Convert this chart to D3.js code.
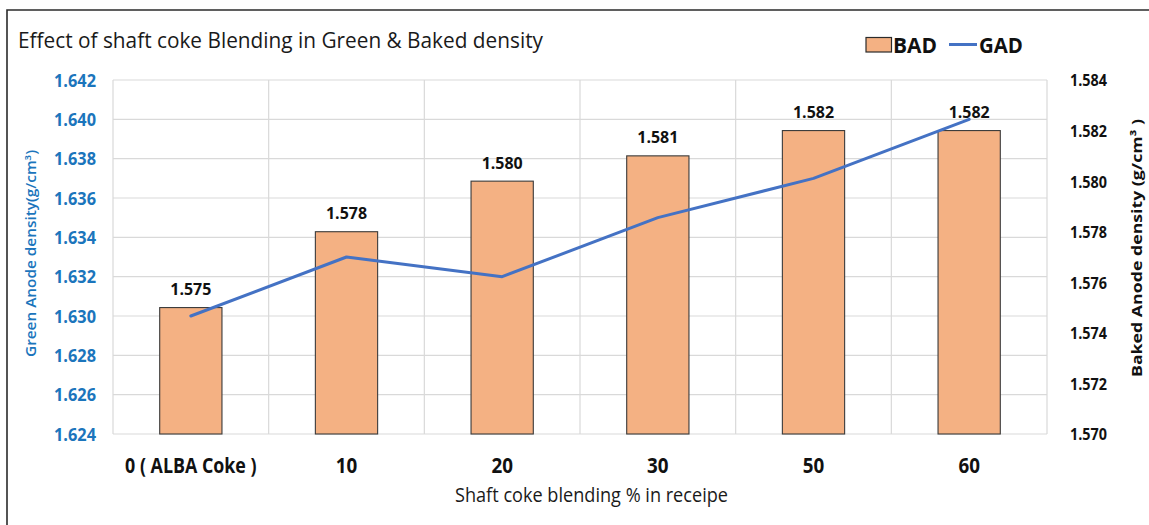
<!DOCTYPE html>
<html>
<head>
<meta charset="utf-8">
<script src="https://cdn.jsdelivr.net/npm/d3@7"></script>
<style>
  html, body { margin: 0; padding: 0; background: #fff; }
  svg { display: block; }
</style>
</head>
<body>
<svg id="chart" width="1149" height="525"></svg>
<script>
// Shaft coke blending levels and measured anode densities
const categories = ["0 ( ALBA Coke )", "10", "20", "30", "50", "60"];
const badValues = [1.575, 1.578, 1.580, 1.581, 1.582, 1.582];   // baked anode density
const gadValues = [1.630, 1.633, 1.632, 1.635, 1.637, 1.640];   // green anode density
const leftTicks = [1.624, 1.626, 1.628, 1.630, 1.632, 1.634, 1.636, 1.638, 1.640, 1.642];
const rightTicks = [1.570, 1.572, 1.574, 1.576, 1.578, 1.580, 1.582, 1.584];

const W = 1149, H = 525;
const plot = { left: 113, right: 1047, top: 80, bottom: 434 };
const FONT = "'Open Sans', 'Liberation Sans', sans-serif";
const BLUE_TEXT = "#1b75bc";
const BAR_FILL = "#f4b183";
const LINE_COLOR = "#4472c4";

const svg = d3.select("#chart");

// squeeze a text node to a given width (narrow, Calibri-like look)
function fit(sel, w) {
  sel.attr("textLength", w).attr("lengthAdjust", "spacingAndGlyphs");
  return sel;
}

// frame
svg.append("rect").attr("width", W).attr("height", H).attr("fill", "#fff");
svg.append("path")
  .attr("d", `M7,${H} L7,10 L${W},10`)
  .attr("fill", "none").attr("stroke", "#2b2b2b").attr("stroke-width", 1.6);

// scales
const x = d3.scaleBand().domain(categories).range([plot.left, plot.right]).padding(0);
const yL = d3.scaleLinear().domain([1.624, 1.642]).range([plot.bottom, plot.top]);
const yR = d3.scaleLinear().domain([1.570, 1.584]).range([plot.bottom, plot.top]);

// horizontal gridlines at left-axis ticks
svg.append("g")
  .selectAll("line").data(leftTicks).join("line")
  .attr("x1", plot.left).attr("x2", plot.right)
  .attr("y1", d => yL(d)).attr("y2", d => yL(d))
  .attr("stroke", "#d9d9d9").attr("stroke-width", 1.2);

// vertical gridlines at category boundaries
const bounds = categories.map(c => x(c)).concat([x(categories[categories.length - 1]) + x.bandwidth()]);
svg.append("g")
  .selectAll("line").data(bounds).join("line")
  .attr("x1", d => d).attr("x2", d => d)
  .attr("y1", plot.top).attr("y2", plot.bottom)
  .attr("stroke", "#d9d9d9").attr("stroke-width", 1.2);

// bars (BAD, right axis)
const barW = x.bandwidth() * 0.4;
svg.append("g")
  .selectAll("rect").data(categories).join("rect")
  .attr("x", (c) => x(c) + (x.bandwidth() - barW) / 2)
  .attr("y", (c, i) => yR(badValues[i]))
  .attr("width", barW)
  .attr("height", (c, i) => plot.bottom - yR(badValues[i]))
  .attr("fill", BAR_FILL)
  .attr("stroke", "#3a3a3a").attr("stroke-width", 1.1);

// bar value labels
svg.append("g")
  .selectAll("text").data(categories).join("text")
  .attr("x", c => x(c) + x.bandwidth() / 2)
  .attr("y", (c, i) => yR(badValues[i]) - 12.5)
  .attr("text-anchor", "middle")
  .attr("font-family", FONT).attr("font-weight", 700).attr("font-size", 16)
  .attr("fill", "#111")
  .text((c, i) => badValues[i].toFixed(3))
  .call(fit, 41);

// GAD line (left axis)
const line = d3.line()
  .x(d => x(d.c) + x.bandwidth() / 2)
  .y(d => yL(d.v));
svg.append("path")
  .datum(categories.map((c, i) => ({ c, v: gadValues[i] })))
  .attr("d", line)
  .attr("fill", "none").attr("stroke", LINE_COLOR)
  .attr("stroke-width", 3).attr("stroke-linejoin", "round").attr("stroke-linecap", "round");

// left axis labels
const leftAxis = d3.axisLeft(yL).tickValues(leftTicks).tickFormat(d3.format(".3f")).tickSize(0).tickPadding(0);
const gL = svg.append("g").attr("transform", "translate(96,0)").call(leftAxis);
gL.select(".domain").remove();
gL.selectAll("text")
  .attr("font-family", FONT).attr("font-weight", 700).attr("font-size", 17)
  .attr("fill", BLUE_TEXT).attr("dy", "0.36em")
  .call(fit, 42);

// right axis labels
const rightAxis = d3.axisRight(yR).tickValues(rightTicks).tickFormat(d3.format(".3f")).tickSize(0).tickPadding(0);
const gR = svg.append("g").attr("transform", "translate(1070,0)").call(rightAxis);
gR.select(".domain").remove();
gR.selectAll("text")
  .attr("font-family", FONT).attr("font-weight", 700).attr("font-size", 16.5)
  .attr("fill", "#111").attr("dy", "0.36em")
  .call(fit, 37);

// category axis labels
const bottomAxis = d3.axisBottom(x).tickSize(0).tickPadding(0);
const gB = svg.append("g").attr("transform", "translate(0,473)").call(bottomAxis);
gB.select(".domain").remove();
gB.selectAll("text")
  .attr("font-family", FONT).attr("font-weight", 700).attr("font-size", 20.5)
  .attr("fill", "#111").attr("dy", 0)
  .each(function (d) {
    const widths = { "0 ( ALBA Coke )": 131.5 };
    d3.select(this).call(fit, widths[d] || 21.5);
  });

// axis titles
svg.append("text")
  .attr("x", 591.5).attr("y", 501.5).attr("text-anchor", "middle")
  .attr("font-family", FONT).attr("font-size", 20.5).attr("fill", "#1a1a1a")
  .text("Shaft coke blending % in receipe")
  .call(fit, 273);

svg.append("text")
  .attr("transform", "translate(36,253.5) rotate(-90)")
  .attr("text-anchor", "middle")
  .attr("font-family", FONT).attr("font-weight", 600).attr("font-size", 13.5).attr("fill", BLUE_TEXT)
  .text("Green Anode density(g/cm³)")
  .call(fit, 207);

svg.append("text")
  .attr("transform", "translate(1142,248) rotate(-90)")
  .attr("text-anchor", "middle")
  .attr("font-family", FONT).attr("font-weight", 700).attr("font-size", 15).attr("fill", "#111")
  .text("Baked Anode density (g/cm³ )")
  .call(fit, 258);

// chart title
svg.append("text")
  .attr("x", 18).attr("y", 48)
  .attr("font-family", FONT).attr("font-size", 22).attr("fill", "#1a1a1a")
  .text("Effect of shaft coke Blending in Green & Baked density")
  .call(fit, 525);

// legend
const lg = svg.append("g");
lg.append("rect")
  .attr("x", 866).attr("y", 37.5).attr("width", 25.5).attr("height", 14.5)
  .attr("fill", BAR_FILL).attr("stroke", "#2b2b2b").attr("stroke-width", 1.2);
lg.append("text")
  .attr("x", 893).attr("y", 52.5)
  .attr("font-family", FONT).attr("font-weight", 700).attr("font-size", 22).attr("fill", "#111")
  .text("BAD").call(fit, 44);
lg.append("line")
  .attr("x1", 949).attr("x2", 977).attr("y1", 44.5).attr("y2", 44.5)
  .attr("stroke", LINE_COLOR).attr("stroke-width", 3);
lg.append("text")
  .attr("x", 979).attr("y", 52.5)
  .attr("font-family", FONT).attr("font-weight", 700).attr("font-size", 22).attr("fill", "#111")
  .text("GAD").call(fit, 44);
</script>
</body>
</html>
